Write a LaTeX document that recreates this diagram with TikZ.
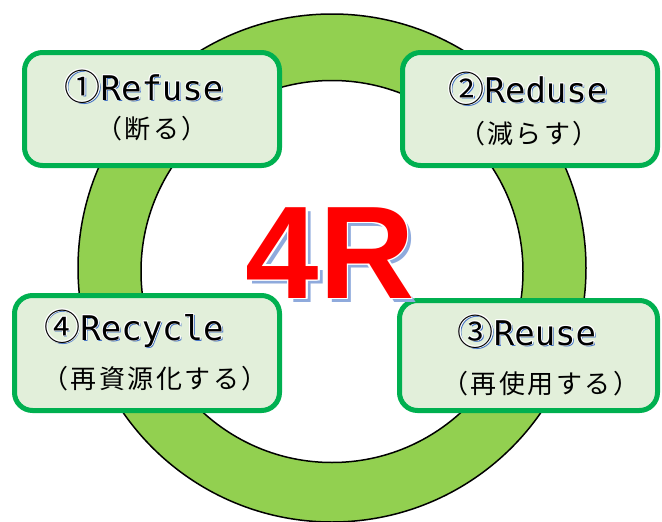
\documentclass[tikz,border=0pt]{standalone}
\usepackage{fontspec}
\newfontfamily\jpf{Noto Sans CJK JP}
\newfontfamily\monof{DejaVu Sans Mono}
\newfontfamily\arialf{Liberation Sans}
\definecolor{ringgreen}{HTML}{92D050}
\definecolor{boxgreen}{HTML}{00B050}
\definecolor{boxfill}{HTML}{E2EFDA}
\definecolor{shblue}{HTML}{4472C4}
\definecolor{shlight}{HTML}{8FAADC}
\definecolor{bigred}{HTML}{FF0000}
% #1 outline w, #2 shadow offset, #3 shadow colour, #4 main colour, #5 text
\newcommand\fxtxt[5]{%
 \makebox[0pt][l]{\hspace*{#2}\raisebox{-#2}{\textcolor{#3}{#5}}}%
 \makebox[0pt][l]{\hspace*{#1}\textcolor{white}{#5}}%
 \makebox[0pt][l]{\hspace*{-#1}\textcolor{white}{#5}}%
 \makebox[0pt][l]{\raisebox{#1}{\textcolor{white}{#5}}}%
 \makebox[0pt][l]{\raisebox{-#1}{\textcolor{white}{#5}}}%
 \makebox[0pt][l]{\hspace*{#1}\raisebox{#1}{\textcolor{white}{#5}}}%
 \makebox[0pt][l]{\hspace*{-#1}\raisebox{#1}{\textcolor{white}{#5}}}%
 \makebox[0pt][l]{\hspace*{#1}\raisebox{-#1}{\textcolor{white}{#5}}}%
 \makebox[0pt][l]{\hspace*{-#1}\raisebox{-#1}{\textcolor{white}{#5}}}%
 \textcolor{#4}{#5}}
\newcommand\lab[2]{\fxtxt{0.8pt}{1.6pt}{shblue}{black}{{\jpf\fontsize{36}{36}\selectfont #1}{\monof\fontsize{34}{34}\selectfont #2}}}
\newcommand\jsp{\hspace{2.5pt}}
\newcommand\jtx[1]{{\jpf\fontsize{26}{26}\selectfont #1}}
\begin{document}
\begin{tikzpicture}[x=1pt,y=-1pt,
  boxst/.style={draw=boxgreen, line width=5pt, fill=boxfill, rounded corners=18pt, inner sep=0pt},
  txt/.style={inner sep=0pt, anchor=base}]
\useasboundingbox (0,0) rectangle (662,522);
% ring
\fill[ringgreen, even odd rule] (332,268) circle[radius=254pt] (332,271.5) circle[radius=191pt];
\draw[black, line width=1.5pt] (332,268) circle[radius=254pt];
\draw[black, line width=1.5pt] (332,271.5) circle[radius=191pt];
% boxes
\node[boxst, minimum width=255pt, minimum height=113pt] (b1) at (152,109) {};
\node[boxst, minimum width=255pt, minimum height=113pt] (b2) at (530,109) {};
\node[boxst, minimum width=265pt, minimum height=115pt] (b4) at (147,353) {};
\node[boxst, minimum width=258pt, minimum height=110pt] (b3) at (528.5,355.5) {};
% labels
\node[txt] (t1a) at (144,100) {\lab{①}{Refuse}};
\node[txt] (t1b) at (152,138) {\jtx{（\jsp 断\jsp る\jsp ）}};
\node[txt] (t2a) at (528,102) {\lab{②}{Reduse}};
\node[txt] (t2b) at (529,143) {\jtx{（\jsp 減\jsp ら\jsp す\jsp ）}};
\node[txt] (t4a) at (134,340) {\lab{④}{Recycle}};
\node[txt] (t4b) at (155,388) {\jtx{（\jsp 再\jsp 資\jsp 源\jsp 化\jsp す\jsp る\jsp ）}};
\node[txt] (t3a) at (527,345) {\lab{③}{Reuse}};
\node[txt] (t3b) at (541,393) {\jtx{（\jsp 再\jsp 使\jsp 用\jsp す\jsp る\jsp ）}};
% 4R
\node[txt] (title) at (330,298) {\fxtxt{1.6pt}{4.5pt}{shlight}{bigred}{{\arialf\bfseries\fontsize{132}{132}\selectfont 4R}}};
\end{tikzpicture}
\end{document}
